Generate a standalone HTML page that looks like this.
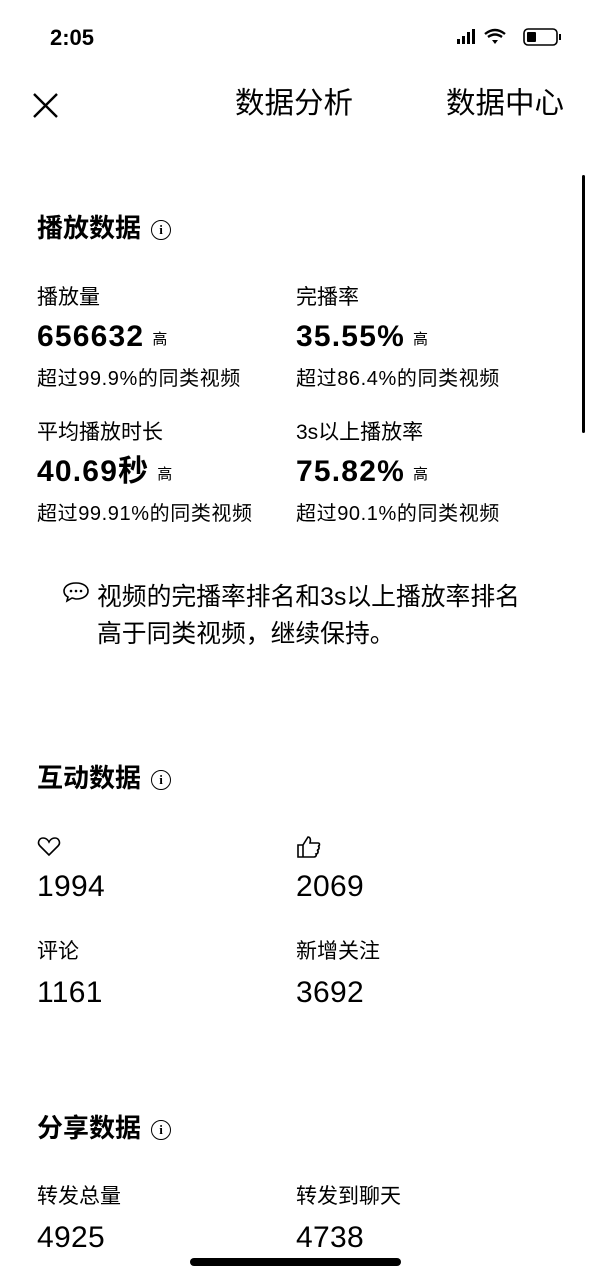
<!DOCTYPE html>
<html><head><meta charset="utf-8">
<style>
body{margin:0;width:591px;height:1280px;background:#fff;position:relative;overflow:hidden;font-family:"Liberation Sans","Noto Sans CJK SC",sans-serif;color:#000}
.a{position:absolute;white-space:nowrap;line-height:1}
.lab{font-size:21px}
.val{font-size:30px;font-weight:bold;letter-spacing:1.2px}
.val small{font-size:15px;font-weight:normal;margin-left:8px;vertical-align:2px;letter-spacing:0}
.num{font-size:30px;font-weight:normal;letter-spacing:0.3px}
.sub{font-size:20px;letter-spacing:0.6px}
.h{font-size:26px;font-weight:bold}
.info{display:inline-block;width:18px;height:18px;border:1.6px solid #000;border-radius:50%;font-size:13px;text-align:center;line-height:18px;font-weight:bold;vertical-align:3px;margin-left:10px;font-family:"Liberation Serif",serif}
</style></head><body>
<div class="a" style="left:50px;top:27px;font-size:22px;font-weight:bold">2:05</div>
<svg class="a" style="left:455px;top:27px" width="110" height="22">
<rect x="2" y="12" width="3" height="5" fill="#000"/><rect x="7" y="9" width="3" height="8" fill="#000"/><rect x="12" y="5" width="3" height="12" fill="#000"/><rect x="17" y="2" width="3" height="15" fill="#000"/>
<path d="M30 7 Q40 -1 50 7 M33 10 Q40 5 47 10" stroke="#000" stroke-width="2.4" fill="none"/><path d="M37 13 L40 17 L43 13 Z" fill="#000"/>
<rect x="69" y="2" width="33" height="16" rx="4" stroke="#000" stroke-width="1.6" fill="none"/><rect x="72" y="5" width="9" height="10" rx="1" fill="#000"/><rect x="104" y="7" width="2" height="6" fill="#000"/>
</svg>
<svg class="a" style="left:32px;top:92px" width="27" height="27"><path d="M2 2 L25 25 M25 2 L2 25" stroke="#000" stroke-width="2.4"/></svg>
<div class="a" style="left:235px;top:89px;font-size:29.5px">数据分析</div>
<div class="a" style="left:446px;top:89px;font-size:29.5px">数据中心</div>
<div class="a" style="left:582px;top:175px;width:3px;height:258px;background:#000;border-radius:2px"></div>

<div class="a h" style="left:37px;top:215px">播放数据<span class="info">i</span></div>
<div class="a lab" style="left:37px;top:287px">播放量</div>
<div class="a val" style="left:37px;top:322px">656632<small>高</small></div>
<div class="a sub" style="left:37px;top:369px">超过99.9%的同类视频</div>
<div class="a lab" style="left:296px;top:287px">完播率</div>
<div class="a val" style="left:296px;top:322px">35.55%<small>高</small></div>
<div class="a sub" style="left:296px;top:369px">超过86.4%的同类视频</div>
<div class="a lab" style="left:37px;top:422px">平均播放时长</div>
<div class="a val" style="left:37px;top:457px">40.69秒<small>高</small></div>
<div class="a sub" style="left:37px;top:504px">超过99.91%的同类视频</div>
<div class="a lab" style="left:296px;top:422px">3s以上播放率</div>
<div class="a val" style="left:296px;top:457px">75.82%<small>高</small></div>
<div class="a sub" style="left:296px;top:504px">超过90.1%的同类视频</div>

<svg class="a" style="left:62px;top:581px" width="28" height="22"><path d="M14 2 C6 2 2 6 2 10 C2 13 4 15 6 16 L5 20 L10 17 C11 17 13 18 14 18 C22 18 26 14 26 10 C26 6 22 2 14 2 Z" stroke="#000" stroke-width="1.6" fill="none"/><circle cx="9" cy="10" r="1.3"/><circle cx="14" cy="10" r="1.3"/><circle cx="19" cy="10" r="1.3"/></svg>
<div class="a" style="left:97px;top:579px;font-size:24.8px;line-height:37px;white-space:normal;width:480px">视频的完播率排名和3s以上播放率排名<br>高于同类视频，继续保持。</div>

<div class="a h" style="left:37px;top:765px">互动数据<span class="info">i</span></div>
<svg class="a" style="left:37px;top:837px" width="24" height="20"><path d="M12 18 L3 9 C0 6 2 1 6 1 C9 1 11 3 12 5 C13 3 15 1 18 1 C22 1 24 6 21 9 Z" stroke="#000" stroke-width="1.6" fill="none"/></svg>
<div class="a num" style="left:37px;top:872px">1994</div>
<svg class="a" style="left:296px;top:835px" width="26" height="24"><path d="M2 10 H7 V22 H2 Z M7 10 L12 2 C14 2 15 4 14 8 H22 C24 8 24 11 22 11 C24 12 23 15 21 15 C23 16 22 19 20 19 C21 21 19 22 18 22 H7" stroke="#000" stroke-width="1.6" fill="none"/></svg>
<div class="a num" style="left:296px;top:872px">2069</div>
<div class="a lab" style="left:37px;top:941px">评论</div>
<div class="a num" style="left:37px;top:978px">1161</div>
<div class="a lab" style="left:296px;top:941px">新增关注</div>
<div class="a num" style="left:296px;top:978px">3692</div>

<div class="a h" style="left:37px;top:1115px">分享数据<span class="info">i</span></div>
<div class="a lab" style="left:37px;top:1186px">转发总量</div>
<div class="a num" style="left:37px;top:1223px">4925</div>
<div class="a lab" style="left:296px;top:1186px">转发到聊天</div>
<div class="a num" style="left:296px;top:1223px">4738</div>
<div class="a" style="left:190px;top:1258px;width:211px;height:8px;border-radius:4px;background:#000"></div>
</body></html>
